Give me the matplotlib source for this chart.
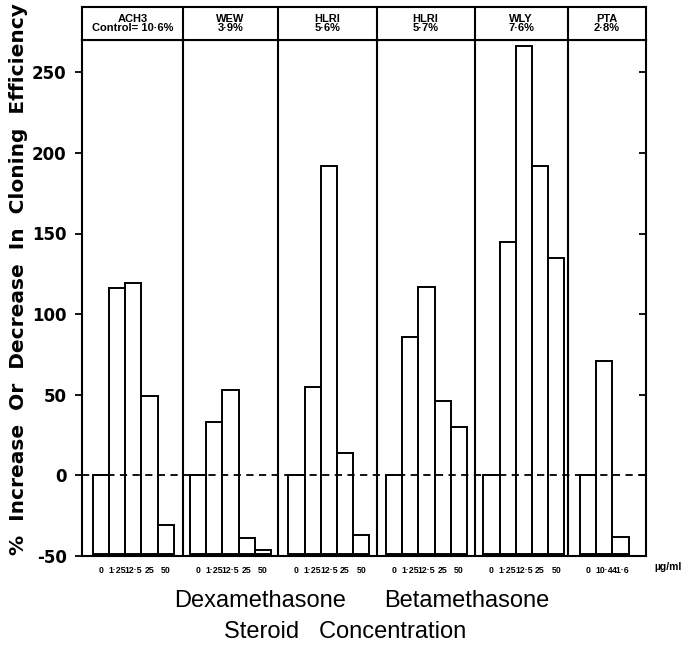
import matplotlib
matplotlib.use("Agg")
from matplotlib import pyplot as plt

plt.rcParams['font.family'] = ['Liberation Sans', 'DejaVu Sans']

fsize = (6.84, 6.48)

# header text for each cell line panel
panelNames = ['ACH3\nControl= 10·6%', 'WEW\n3·9%', 'HLRI\n5·6%',
              'HLRI\n5·7%', 'WLY\n7·6%', 'PTA\n2·8%']

doseLabels = [['0', '1·25', '12·5', '25', '50'],
              ['0', '1·25', '12·5', '25', '50'],
              ['0', '1·25', '12·5', '25', '50'],
              ['0', '1·25', '12·5', '25', '50'],
              ['0', '1·25', '12·5', '25', '50'],
              ['0', '10·4', '41·6']]

ach3 = [0, 116, 119, 49, -31]
wew = [0, 33, 53, -39, -46]
hlri1 = [0, 55, 192, 14, -37]
hlri2 = [0, 86, 117, 46, 30]
wly = [0, 145, 266, 192, 135]
pta = [0, 71, -38]

yTicks = [-50, 0, 50, 100, 150, 200, 250]

# layout (x in pixel-like units across the plot box)
dividers = [100.7, 196.3, 294.7, 392.5, 486]
firstBar = [10.7, 108, 206.3, 304, 401.3, 498]
barWidth = 16.2
xMax = 564
yMin = -49
yMax = 270

allData = [ach3, wew, hlri1, hlri2, wly, pta]

fig = plt.figure(figsize=fsize, dpi=100)
ax = fig.add_axes([82 / 684, 92 / 648, 564 / 684, 516 / 648])
hdr = fig.add_axes([82 / 684, 608 / 648, 564 / 684, 33 / 648])

tickPos = []
tickLab = []
for i in range(len(allData)):
    vals = allData[i]
    xs = []
    for j in range(len(vals)):
        xs.append(firstBar[i] + j * barWidth)
    heights = [v - yMin for v in vals]
    ax.bar(xs, heights, width=barWidth, bottom=yMin, align='edge',
           color='white', edgecolor='black', linewidth=1.4, zorder=2)
    for j in range(len(vals)):
        tickPos.append(xs[j] + barWidth / 2)
        tickLab.append(doseLabels[i][j])

for d in dividers:
    ax.axvline(d, color='black', linewidth=1.5, zorder=3)
    hdr.axvline(d, color='black', linewidth=1.5)

ax.axhline(0, color='black', linestyle=(0, (4, 3)), linewidth=1.3, zorder=4)

ax.set_xlim(0, xMax)
ax.set_ylim(yMin, yMax)
ax.set_yticks(yTicks)
ax.set_xticks(tickPos)
ax.set_xticklabels(tickLab, fontsize=6.3, fontweight='bold')
ax.tick_params(axis='x', length=0, pad=7)
ax.tick_params(axis='y', direction='out', length=5, width=1.3, pad=6, right=True)
ax.set_yticklabels([str(t) for t in yTicks], fontsize=12, fontweight='bold',
                   family='DejaVu Sans')
# inward ticks on the right spine
for t in ax.yaxis.get_major_ticks():
    t.tick2line.set_marker(matplotlib.lines.TICKLEFT)
for s in ax.spines.values():
    s.set_linewidth(1.5)

hdr.set_xlim(0, xMax)
hdr.set_ylim(0, 1)
hdr.set_xticks([])
hdr.set_yticks([])
for s in hdr.spines.values():
    s.set_linewidth(1.5)
edges = [0] + dividers + [xMax]
for i in range(len(panelNames)):
    cx = (edges[i] + edges[i + 1]) / 2
    hdr.text(cx, 0.5, panelNames[i], ha='center', va='center',
             fontsize=8, fontweight='bold', linespacing=0.95)

fig.text(682 / 684, 1 - 567 / 648, 'µg/ml', ha='right', va='center',
         fontsize=7.5, fontweight='bold')

fig.text(19 / 684, 1 - 279 / 648,
         '%  Increase  Or  Decrease  In  Cloning  Efficiency',
         rotation=90, ha='center', va='center', fontsize=14.5,
         fontweight='bold', family='DejaVu Sans')

fig.text(260 / 684, 1 - 601 / 648, 'Dexamethasone', ha='center', va='center',
         fontsize=17)
fig.text(467 / 684, 1 - 601 / 648, 'Betamethasone', ha='center', va='center',
         fontsize=17)
fig.text(345 / 684, 1 - 632 / 648, 'Steroid   Concentration', ha='center',
         va='center', fontsize=17)

plt.savefig('out.png', dpi=100)
